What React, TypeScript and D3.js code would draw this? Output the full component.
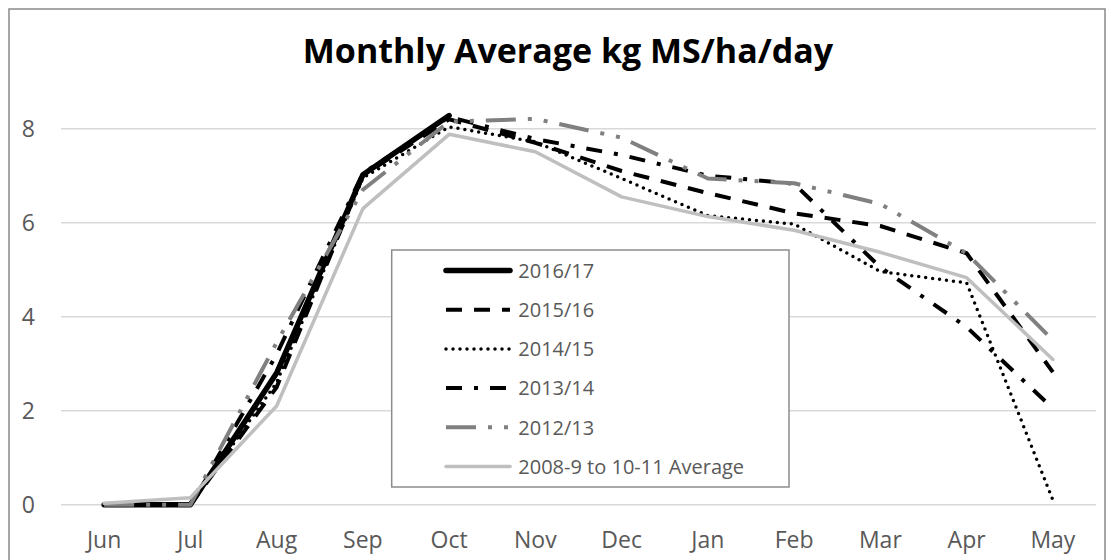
import React from 'react';
import * as d3 from 'd3';

const months = ['Jun', 'Jul', 'Aug', 'Sep', 'Oct', 'Nov', 'Dec', 'Jan', 'Feb', 'Mar', 'Apr', 'May'];
const s2016_17: (number | null)[] = [0, 0, 2.8, 7.02, 8.28, null, null, null, null, null, null, null];
const s2015_16: (number | null)[] = [0, 0, 2.5, 7.0, 8.2, 7.7, 7.1, 6.63, 6.2, 5.93, 5.35, 2.82];
const s2014_15: (number | null)[] = [0, 0, 2.6, 6.95, 8.04, 7.72, 6.94, 6.15, 5.97, 4.96, 4.72, 0.1];
const s2013_14: (number | null)[] = [0, 0, 3.2, 7.05, 8.25, 7.78, 7.44, 7.0, 6.83, 5.05, 3.78, 2.05];
const s2012_13: (number | null)[] = [0, 0, 3.45, 6.7, 8.15, 8.21, 7.81, 6.94, 6.84, 6.4, 5.35, 3.5];
const sAverage: (number | null)[] = [0.03, 0.15, 2.1, 6.3, 7.88, 7.51, 6.55, 6.13, 5.84, 5.37, 4.83, 3.09];
const seriesNames = ['2016/17', '2015/16', '2014/15', '2013/14', '2012/13', '2008-9 to 10-11 Average'];
const yTicks = [0, 2, 4, 6, 8];
const title = 'Monthly Average kg MS/ha/day';

const FONT = '"Open Sans", sans-serif';

export default function App() {
  const W = 1113;
  const H = 560;
  const plot = { left: 61, right: 1096 };
  const x = d3.scaleBand<string>().domain(months).range([plot.left, plot.right]).padding(0);
  const bw = x.bandwidth();
  const y = d3.scaleLinear().domain([0, 8]).range([504.7, 128.7]);

  const styles = [
    { color: '#000000', width: 5.5, dash: undefined as string | undefined, cap: 'round' },
    { color: '#000000', width: 4, dash: '16 12', cap: 'butt' },
    { color: '#000000', width: 3.5, dash: '0 7', cap: 'round' },
    { color: '#000000', width: 4, dash: '16 12 4 12', cap: 'butt' },
    { color: '#808080', width: 4, dash: '30 12 4 12 4 12', cap: 'butt' },
    { color: '#bfbfbf', width: 3.5, dash: undefined as string | undefined, cap: 'round' },
  ];
  const data = [s2016_17, s2015_16, s2014_15, s2013_14, s2012_13, sAverage];

  const line = d3
    .line<number | null>()
    .defined((d) => d !== null)
    .x((_, i) => (x(months[i]) as number) + bw / 2)
    .y((d) => y(d as number));

  const legend = { x0: 391.7, y0: 250, x1: 789, y1: 487 };
  const legendBase0 = 277.7;
  const legendStep = 39.2;

  return (
    <svg width={W} height={H} style={{ position: 'absolute', left: 0, top: 0, background: '#fff' }}>
      <rect x={0} y={0} width={W} height={H} fill="#ffffff" />
      <rect x={9} y={9} width={1096} height={570} fill="none" stroke="#898989" strokeWidth={1.5} />
      <text x={568} y={63} textAnchor="middle" fontFamily={FONT} fontWeight={700} fontSize={34} fill="#000">
        {title}
      </text>
      {yTicks.map((t) => (
        <g key={t}>
          <line x1={plot.left} x2={plot.right} y1={y(t)} y2={y(t)} stroke="#d9d9d9" strokeWidth={1.5} />
          <text x={35} y={y(t) + 8.2} textAnchor="end" fontFamily={FONT} fontSize={23} fill="#595959">
            {t}
          </text>
        </g>
      ))}
      {months.map((m) => (
        <text key={m} x={(x(m) as number) + bw / 2} y={548.3} textAnchor="middle" fontFamily={FONT} fontSize={23} fill="#595959">
          {m}
        </text>
      ))}
      {data.map((d, i) => (
        <path
          key={seriesNames[i]}
          d={line(d) || ''}
          fill="none"
          stroke={styles[i].color}
          strokeWidth={styles[i].width}
          strokeDasharray={styles[i].dash}
          strokeLinecap={styles[i].cap as any}
          strokeLinejoin="round"
        />
      ))}
      <rect
        x={legend.x0}
        y={legend.y0}
        width={legend.x1 - legend.x0}
        height={legend.y1 - legend.y0}
        fill="#ffffff"
        stroke="#8c8c8c"
        strokeWidth={1.5}
      />
      {seriesNames.map((n, i) => {
        const base = legendBase0 + i * legendStep;
        const ly = base - 7.2;
        return (
          <g key={n}>
            <line
              x1={446}
              x2={510}
              y1={ly}
              y2={ly}
              stroke={styles[i].color}
              strokeWidth={styles[i].width}
              strokeDasharray={styles[i].dash}
              strokeLinecap={styles[i].cap as any}
            />
            <text x={518.3} y={base} fontFamily={FONT} fontSize={20} fill="#595959">
              {n}
            </text>
          </g>
        );
      })}
    </svg>
  );
}
